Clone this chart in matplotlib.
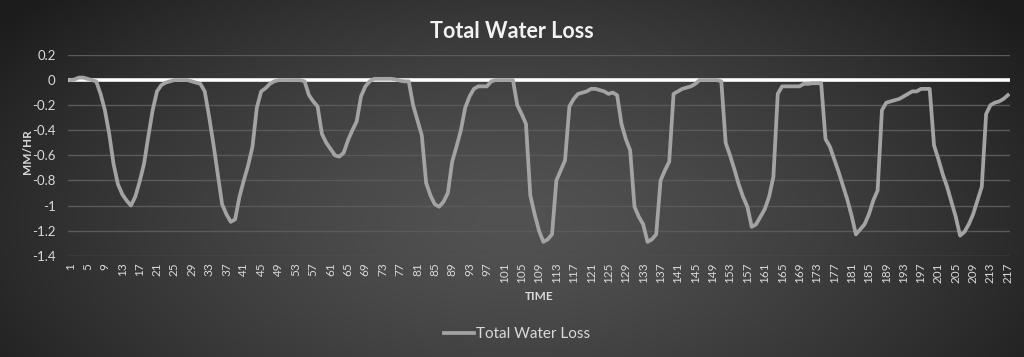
import numpy as np
import matplotlib
matplotlib.use("Agg")
import matplotlib.pyplot as plt

plt.rcParams['font.family'] = ['Lato', 'DejaVu Sans']

title = "Total Water Loss"
series_name = "Total Water Loss"
x_label = "TIME"
y_label = "MM/HR"

time = list(range(1, 218))
water_loss = [
    0.00, 0.005, 0.02, 0.02, 0.01, 0.00, -0.01, -0.11, -0.24, -0.43,      # 1-10
    -0.67, -0.83, -0.91, -0.96, -1.00, -0.93, -0.81, -0.67, -0.45, -0.24,  # 11-20
    -0.09, -0.04, -0.02, -0.01, 0.00, 0.00, 0.00, 0.00, -0.01, -0.02,      # 21-30
    -0.03, -0.09, -0.29, -0.51, -0.75, -0.99, -1.07, -1.13, -1.11, -0.93,  # 31-40
    -0.80, -0.68, -0.53, -0.22, -0.09, -0.065, -0.03, -0.01, 0.00, 0.00,   # 41-50
    0.00, 0.00, 0.00, 0.00, -0.01, -0.12, -0.17, -0.21, -0.43, -0.50,      # 51-60
    -0.55, -0.60, -0.61, -0.58, -0.48, -0.40, -0.33, -0.13, -0.05, -0.01,  # 61-70
    0.01, 0.01, 0.01, 0.01, 0.01, 0.005, -0.005, -0.01, -0.01, -0.20,      # 71-80
    -0.32, -0.44, -0.82, -0.92, -0.99, -1.01, -0.97, -0.90, -0.65, -0.53,  # 81-90
    -0.40, -0.22, -0.13, -0.07, -0.05, -0.05, -0.05, -0.01, 0.00, 0.00,    # 91-100
    0.00, 0.00, 0.00, -0.20, -0.27, -0.35, -0.92, -1.07, -1.20, -1.29,     # 101-110
    -1.27, -1.23, -0.80, -0.72, -0.64, -0.21, -0.15, -0.11, -0.10, -0.09,  # 111-120
    -0.07, -0.07, -0.08, -0.09, -0.11, -0.10, -0.12, -0.35, -0.47, -0.56,  # 121-130
    -1.01, -1.09, -1.15, -1.29, -1.27, -1.23, -0.80, -0.72, -0.65, -0.11,  # 131-140
    -0.09, -0.07, -0.06, -0.05, -0.03, 0.00, 0.00, 0.00, 0.00, 0.00,       # 141-150
    -0.01, -0.50, -0.60, -0.71, -0.83, -0.93, -1.01, -1.17, -1.15, -1.09,  # 151-160
    -1.03, -0.93, -0.77, -0.11, -0.05, -0.05, -0.05, -0.05, -0.05, -0.03,  # 161-170
    -0.03, -0.025, -0.025, -0.025, -0.47, -0.53, -0.63, -0.73, -0.84, -0.95,  # 171-180
    -1.08, -1.23, -1.19, -1.15, -1.07, -0.96, -0.88, -0.24, -0.18, -0.17,  # 181-190
    -0.16, -0.15, -0.13, -0.11, -0.09, -0.09, -0.07, -0.07, -0.07, -0.52,  # 191-200
    -0.63, -0.75, -0.85, -0.97, -1.09, -1.24, -1.21, -1.15, -1.07, -0.96,  # 201-210
    -0.85, -0.27, -0.20, -0.18, -0.17, -0.15, -0.12,                       # 211-217
]
y_ticks = [0.2, 0, -0.2, -0.4, -0.6, -0.8, -1, -1.2, -1.4]
y_tick_labels = ["0.2", "0", "-0.2", "-0.4", "-0.6", "-0.8", "-1", "-1.2", "-1.4"]
x_ticks = list(range(1, 218, 4))

W, H = 1024, 357
fig = plt.figure(figsize=(W / 100, H / 100), dpi=100)

# radial gradient background
bg = fig.add_axes([0, 0, 1, 1], zorder=-10)
gx, gy = np.meshgrid(np.linspace(0, 1, 512), np.linspace(0, 1, 180))
r = np.sqrt(((gx - 0.5) / 0.62) ** 2 + ((gy - 0.62) / 0.95) ** 2)
val = 0x52 - (0x52 - 0x1c) * np.clip(r, 0, 1) ** 1.4
img = np.dstack([val, val, val]) / 255.0
bg.imshow(img, aspect='auto', extent=[0, 1, 0, 1], origin='upper')
bg.set_axis_off()

ax = fig.add_axes([68 / W, 1 - 255.7 / H, (1010 - 68) / W, (255.7 - 55) / H])
ax.set_facecolor('none')
for s in ax.spines.values():
    s.set_visible(False)

ax.set_xlim(0.5, 217.5)
ax.set_ylim(-1.4, 0.2)
ax.set_yticks(y_ticks)
ax.set_yticklabels(y_tick_labels)
ax.set_xticks(x_ticks)
ax.set_xticklabels([str(t) for t in x_ticks], rotation=90)
ax.tick_params(axis='both', length=0, colors='#d9d9d9')
ax.tick_params(axis='y', labelsize=9.5, pad=9)
ax.tick_params(axis='x', labelsize=8.5, pad=5)

for t in y_ticks:
    if t != 0:
        ax.axhline(t, color='#5a5a5a', lw=1.0, zorder=1)
ax.axhline(0, color='#ffffff', lw=2.6, zorder=2)

ax.plot(time, water_loss, color='#a3a3a3', lw=2.7, zorder=3,
        solid_joinstyle='round', label=series_name)

fig.text(0.5, 1 - 31 / H, title, ha='center', va='center', fontsize=15.5,
         fontweight='bold', color='#f2f2f2')
fig.text(28 / W, 1 - 152 / H, y_label, ha='center', va='center', rotation=90,
         fontsize=8.5, fontweight='bold', color='#d9d9d9')
fig.text(539 / W, 1 - 296 / H, x_label, ha='center', va='center',
         fontsize=8.5, fontweight='bold', color='#d9d9d9')

leg = fig.legend(loc='center', bbox_to_anchor=(517 / W, 1 - 334 / H), frameon=False,
                 fontsize=11, labelcolor='#d9d9d9', handlelength=2.0, handletextpad=0.1)

fig.savefig('out.png', dpi=100)
